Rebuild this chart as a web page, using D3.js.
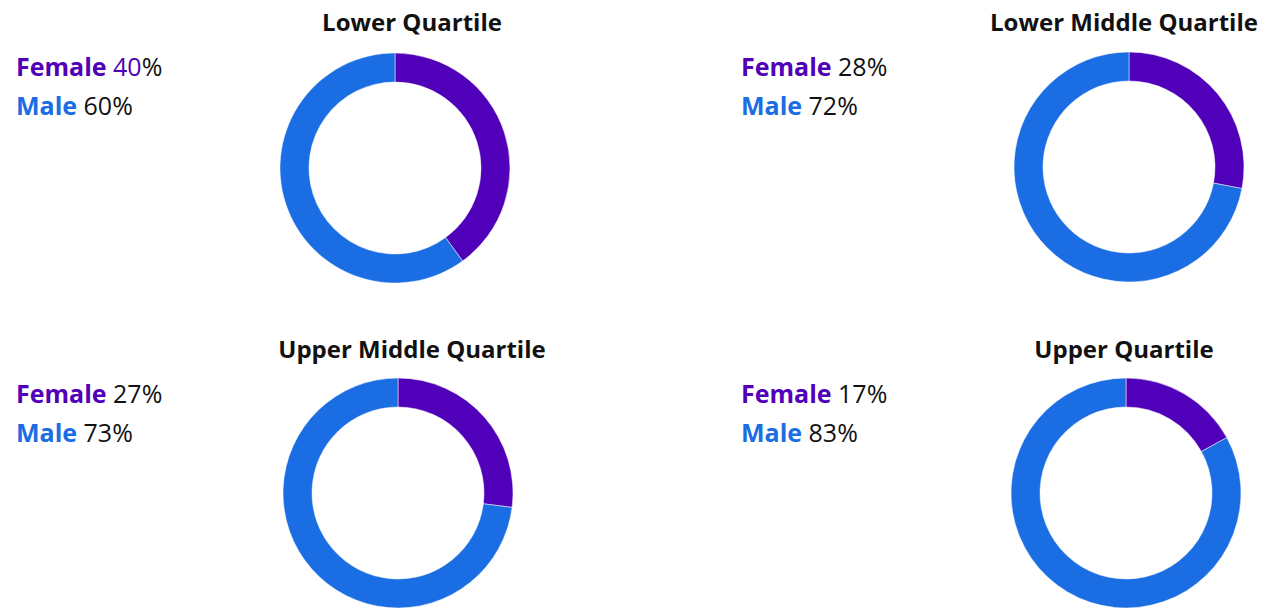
<!DOCTYPE html>
<html lang="en">
<head>
  <meta charset="UTF-8">
  <title>Gender by Pay Quartile</title>
  <script src="https://d3js.org/d3.v7.min.js"></script>
  <style>
    body { margin: 0; background: #fff; }
    text { font-family: "Open Sans", "Noto Sans", sans-serif; }
  </style>
</head>
<body>
  <svg width="1261" height="608"></svg>

  <script>
    // Chart data
    const quartiles = ["Lower Quartile", "Lower Middle Quartile", "Upper Middle Quartile", "Upper Quartile"];
    const femaleValues = [40, 28, 27, 17];
    const maleValues = [60, 72, 73, 83];
    const seriesNames = ["Female", "Male"];
    const seriesColors = ["#5000b8", "#1a6de3"];

    const svg = d3.select("svg");

    // panel placement (donut centres, title centres, legend x)
    const panels = [
      {cx: 395, cy: 168, tx: 412, ty: 31, lx: 16, ly: 76},
      {cx: 1129, cy: 167, tx: 1124, ty: 31, lx: 741, ly: 76},
      {cx: 398, cy: 493, tx: 412, ty: 358, lx: 16, ly: 403},
      {cx: 1126, cy: 493, tx: 1124, ty: 358, lx: 741, ly: 403}
    ];

    const outerR = 115;
    const innerR = 86;

    const color = d3.scaleOrdinal().domain(seriesNames).range(seriesColors);
    const pie = d3.pie().sort(null).value(d => d.value);
    const arc = d3.arc().innerRadius(innerR).outerRadius(outerR);

    quartiles.forEach((q, i) => {
      const p = panels[i];
      const values = [
        {name: "Female", value: femaleValues[i]},
        {name: "Male", value: maleValues[i]}
      ];

      // title
      svg.append("text")
        .attr("x", p.tx)
        .attr("y", p.ty)
        .attr("text-anchor", "middle")
        .style("font-size", "24px")
        .style("font-weight", "bold")
        .style("fill", "#111")
        .text(q);

      // legend
      values.forEach((v, j) => {
        const t = svg.append("text")
          .attr("x", p.lx)
          .attr("y", p.ly + j * 39)
          .style("font-size", "25px");
        t.append("tspan")
          .style("font-weight", "bold")
          .style("fill", color(v.name))
          .text(v.name + " ");
        // first panel shows the female number in purple
        t.append("tspan")
          .style("fill", (i === 0 && j === 0) ? color(v.name) : "#111")
          .text(v.value);
        t.append("tspan")
          .style("fill", "#111")
          .text("%");
      });

      // donut
      svg.append("g")
        .attr("transform", `translate(${p.cx},${p.cy})`)
        .selectAll("path")
        .data(pie(values))
        .join("path")
        .attr("d", arc)
        .attr("fill", d => color(d.data.name))
        .attr("stroke", "#fff")
        .attr("stroke-width", 0.5);
    });
  </script>
</body>
</html>
